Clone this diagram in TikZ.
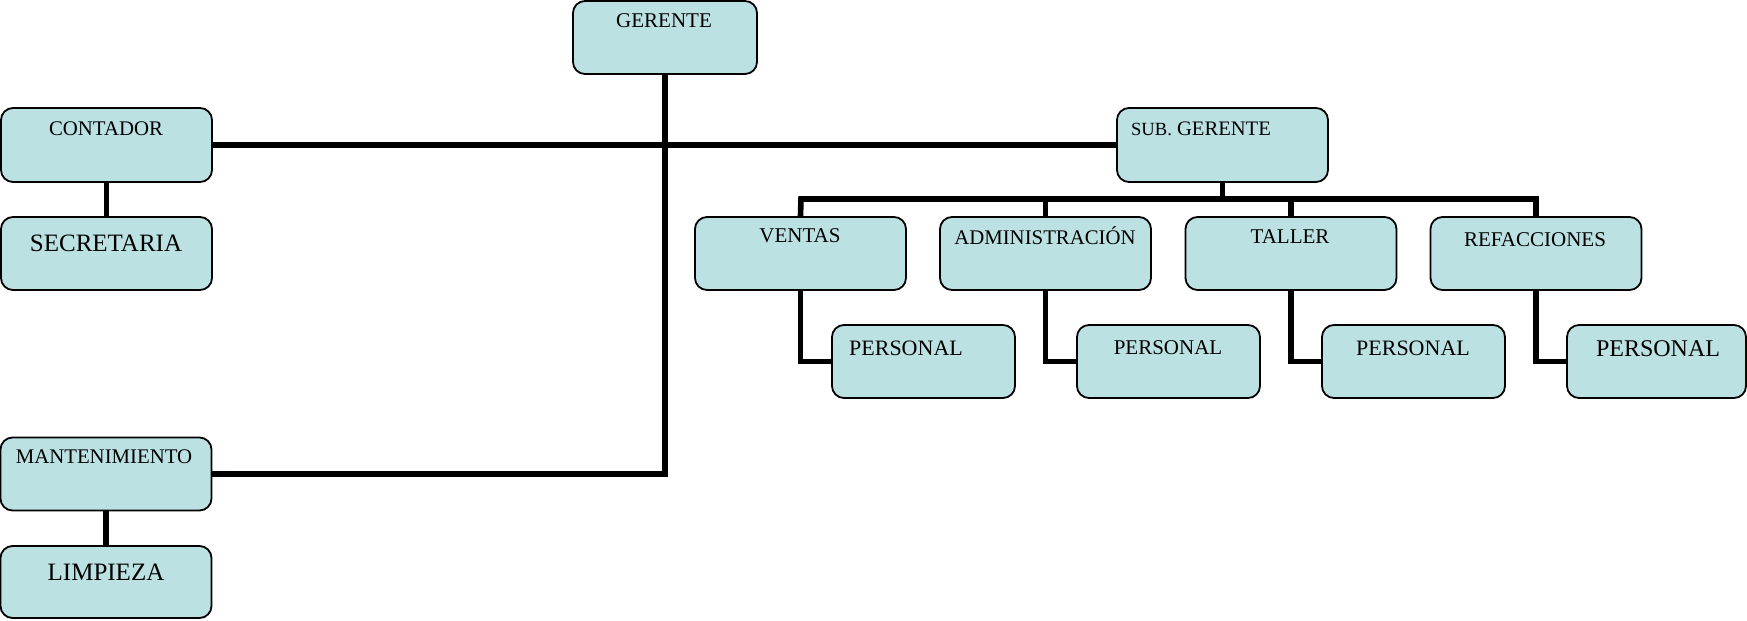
\documentclass[tikz,border=0pt]{standalone}
\usepackage{fontspec}
\setmainfont{Liberation Serif}
\definecolor{boxfill}{HTML}{BBE1E3}
\begin{document}
\begin{tikzpicture}[x=0.5pt,y=-0.5pt,
  box/.style={draw=black, line width=0.9pt, fill=boxfill, rounded corners=6pt, inner sep=0pt},
  lbl/.style={inner sep=0pt, anchor=center},
  conn/.style={line width=2.8pt, line join=miter}]
\useasboundingbox (0,0) rectangle (1747,621);
% connectors (drawn first so boxes sit on top)
\node[box, minimum width=92pt, minimum height=36.5pt] (ger) at (665,37.5) {};
\node[box, minimum width=105.5pt, minimum height=37pt] (cont) at (106.5,145) {};
\node[box, minimum width=105.5pt, minimum height=36.5pt] (sec) at (106.5,253.5) {};
\node[box, minimum width=105.5pt, minimum height=37pt] (sub) at (1222.5,145) {};
\node[box, minimum width=105.5pt, minimum height=36.5pt] (mant) at (106,474) {};
\node[box, minimum width=105.5pt, minimum height=36pt] (limp) at (106,582) {};
\node[box, minimum width=105.5pt, minimum height=36.5pt] (ven) at (800.5,253.5) {};
\node[box, minimum width=105.5pt, minimum height=36.5pt] (adm) at (1045.5,253.5) {};
\node[box, minimum width=105.5pt, minimum height=36.5pt] (tal) at (1291,253.5) {};
\node[box, minimum width=105.5pt, minimum height=36.5pt] (ref) at (1536,253.5) {};
\node[box, minimum width=91.5pt, minimum height=36.5pt] (p1) at (923.5,361.5) {};
\node[box, minimum width=91.5pt, minimum height=36.5pt] (p2) at (1168.5,361.5) {};
\node[box, minimum width=91.5pt, minimum height=36.5pt] (p3) at (1413.5,361.5) {};
\node[box, minimum width=89.5pt, minimum height=36.5pt] (p4) at (1656.5,361.5) {};
% labels
\node[lbl, font=\fontsize{10.5}{12}\selectfont] (gert) at (664,21) {GERENTE};
\node[lbl, font=\fontsize{10.4}{12}\selectfont] (contt) at (106,129) {CONTADOR};
\node[lbl, font=\fontsize{12.5}{14}\selectfont] (sect) at (106,243) {SECRETARIA};
\node[lbl, font=\fontsize{10.3}{12}\selectfont] (subt) at (1201,129) {{\fontsize{9.3}{12}\selectfont SUB.} GERENTE};
\node[lbl, font=\fontsize{10.4}{12}\selectfont] (mantt) at (104,457) {MANTENIMIENTO};
\node[lbl, font=\fontsize{12.5}{14}\selectfont] (limpt) at (106,572) {LIMPIEZA};
\node[lbl, font=\fontsize{10.5}{12}\selectfont] (vent) at (800,236) {VENTAS};
\node[lbl, font=\fontsize{10.4}{12}\selectfont] (admt) at (1045,236) {ADMINISTRACIÓN};
\node[lbl, font=\fontsize{10.5}{12}\selectfont] (talt) at (1290,237) {TALLER};
\node[lbl, font=\fontsize{10.5}{12}\selectfont] (reft) at (1535,240) {REFACCIONES};
\node[lbl, font=\fontsize{11}{13}\selectfont] (p1t) at (906,348) {PERSONAL};
\node[lbl, font=\fontsize{10.5}{13}\selectfont] (p2t) at (1168,348) {PERSONAL};
\node[lbl, font=\fontsize{11}{13}\selectfont] (p3t) at (1413,348) {PERSONAL};
\node[lbl, font=\fontsize{12}{14}\selectfont] (p4t) at (1658,349) {PERSONAL};
% connectors
\coordinate (busL) at (801,199);
\coordinate (busR) at (1536,199);
\draw[conn] (ger.south) |- (mant.east);
\draw[conn] (cont.east) -- (sub.west);
\draw[conn] (cont.south) -- (sec.north);
\draw[conn] (mant.south) -- (limp.north);
\draw[conn] (sub.south) -- (sub.south |- busL);
\draw[conn] (ven.north) -- (busL) -- (busR) -- (ref.north);
\draw[conn] (adm.north) -- (adm.north |- busL);
\draw[conn] (tal.north) -- (tal.north |- busL);
\draw[conn] (ven.south) |- (p1.west);
\draw[conn] (adm.south) |- (p2.west);
\draw[conn] (tal.south) |- (p3.west);
\draw[conn] (ref.south) |- (p4.west);
\end{tikzpicture}
\end{document}
